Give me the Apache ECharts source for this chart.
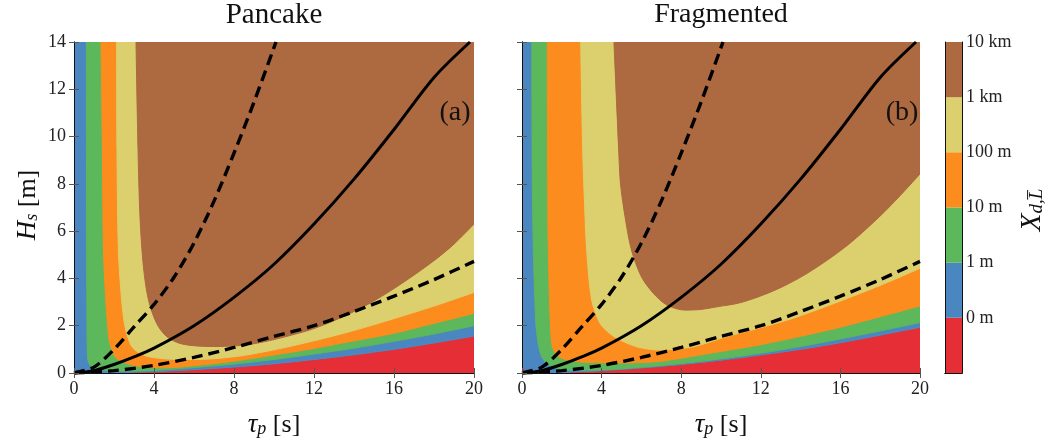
<!DOCTYPE html>
<html><head><meta charset="utf-8">
<script src="https://cdn.jsdelivr.net/npm/echarts/dist/echarts.min.js"></script>
<style>html,body{margin:0;padding:0;background:#fff}#c{width:1057px;height:446px}</style>
</head><body><div id="c"></div><script>
// ---- data ----
const panelTitles = ['Pancake', 'Fragmented'];
const panelTags = ['(a)', '(b)'];
const levelLabels = ['0 m', '1 m', '10 m', '100 m', '1 km', '10 km'];
const levelBins = [1, 1, 1, 1, 1, 1];

// boundaries (tau_p [s], H_s [m]) of the filled regions, panel (a)
const pancake0 = [[0,0],[2,0.015],[4,0.06],[6,0.14],[8,0.25],[10,0.39],[12,0.57],[14,0.77],[16,1.0],[18,1.27],[20,1.56]];
const pancake1 = [[0.62,14],[0.63,6],[0.65,2],[0.67,0.8],[0.72,0.45],[0.9,0.25],[1.45,0.13],[2.5,0.08],[4,0.11],[6,0.23],[8,0.38],[10,0.57],[12,0.8],[14,1.05],[16,1.34],[18,1.65],[20,2.0]];
const pancake2 = [[1.35,14],[1.42,9.5],[1.47,5.2],[1.58,3.2],[1.68,2.0],[1.78,1.3],[2.05,0.69],[2.5,0.45],[2.9,0.34],[3.6,0.25],[4.5,0.22],[6,0.31],[8,0.5],[10,0.76],[12,1.04],[14,1.36],[16,1.68],[18,2.1],[20,2.52]];
const pancake3 = [[2.13,14],[2.15,9.4],[2.22,5.2],[2.38,3.1],[2.55,1.96],[2.8,1.26],[3.05,0.97],[3.6,0.72],[4.3,0.62],[5.3,0.57],[6.5,0.58],[8.3,0.72],[10,0.98],[12,1.36],[14,1.8],[16,2.3],[18,2.83],[20,3.41]];
const pancake4 = [[3.1,14],[3.2,9.5],[3.3,6.6],[3.47,4.5],[3.72,3.1],[4.13,2.1],[4.63,1.54],[5.3,1.25],[6.2,1.14],[7.2,1.12],[8.5,1.18],[9.5,1.32],[10.6,1.54],[12,1.88],[13.5,2.4],[15,3.05],[16.5,3.85],[18,4.75],[19,5.45],[20,6.3]];

// panel (b)
const frag0 = [[0,14],[0.07,14],[0.075,0.5],[0.15,0.08],[0.5,0.02],[2,0.03],[4,0.1],[6,0.21],[8,0.36],[10,0.54],[12,0.76],[14,1.0],[16,1.28],[18,1.6],[20,1.93]];
const frag1 = [[0.49,14],[0.52,8],[0.57,5.2],[0.65,3],[0.74,1.68],[0.99,0.69],[1.49,0.27],[2.5,0.12],[4,0.13],[6,0.24],[8,0.4],[10,0.6],[12,0.84],[14,1.12],[16,1.44],[18,1.78],[20,2.13]];
const frag2 = [[1.27,14],[1.29,8],[1.32,5.2],[1.41,2.38],[1.49,1.26],[1.6,0.95],[1.83,0.69],[2.3,0.55],[3,0.46],[4.7,0.42],[6,0.44],[7.2,0.52],[8.94,0.76],[10.5,0.98],[12,1.2],[14,1.55],[16.1,1.96],[18,2.38],[20,2.83]];
const frag3 = [[2.95,14],[3.05,9.43],[3.15,7],[3.25,5.2],[3.5,3.09],[3.92,2.1],[4.3,1.75],[4.76,1.47],[5.76,1.11],[6.9,0.97],[8.6,1.11],[10.3,1.54],[12,1.92],[13.6,2.31],[15.3,2.82],[17,3.37],[18.5,3.88],[20,4.43]];
const frag4 = [[4.62,14],[4.85,9.6],[4.95,8],[5.18,6.6],[5.5,5.2],[6.0,4.07],[6.6,3.37],[7.27,2.88],[8.2,2.66],[9.0,2.69],[9.8,2.8],[11,2.98],[12.6,3.46],[14,4.05],[15.3,4.75],[16.5,5.5],[18,6.64],[19,7.5],[20,8.42]];

// black reference curves (same in both panels)
const solidLine = [[0,0],[1,0.1],[2,0.36],[3,0.68],[4,1.05],[6,2.0],[8,3.2],[10,4.6],[12,6.3],[14,8.2],[16,10.3],[18,12.5],[19.8,14]];
const dashedSteep = [[0,0],[1,0.25],[2,1.0],[3,1.95],[4,2.9],[5,4.05],[6,5.5],[7,7.27],[8,9.3],[9,11.46],[10.1,14]];
const dashedShallow = [[0,0],[2,0.1],[4,0.32],[6,0.66],[8,1.08],[10,1.55],[12,2.0],[14,2.6],[16,3.25],[18,3.95],[20,4.72]];

// ---- styling ----
const COLORS = ['#e52e36', '#4a87c0', '#5db75b', '#fd8c1e', '#dccf6e', '#ad693f'];
const F = '"Liberation Serif", "DejaVu Serif", serif';
const panelBounds = [[pancake0, pancake1, pancake2, pancake3, pancake4], [frag0, frag1, frag2, frag3, frag4]];
const grids = [
  {left: 74, top: 42, width: 400, height: 331},
  {left: 522, top: 42, width: 398, height: 331},
  {left: 945, top: 42, width: 17, height: 331}
];

const axisLine = {show: true, lineStyle: {color: '#111', width: 1}};
const axisTick = {show: true, length: 5, lineStyle: {color: '#555', width: 1}};
const xAxes = [], yAxes = [], series = [];

for (let p = 0; p < 2; p++) {
  ['bottom', 'top'].forEach((pos, j) => xAxes.push({
    type: 'value', gridIndex: p, position: pos, min: 0, max: 20, interval: 4, z: 50,
    axisLine, axisTick, splitLine: {show: false},
    axisLabel: {show: j === 0, fontFamily: F, fontSize: 18, color: '#222', margin: 7}
  }));
  ['left', 'right'].forEach((pos, j) => yAxes.push({
    type: 'value', gridIndex: p, position: pos, min: 0, max: 14, interval: 2, z: 50,
    axisLine, axisTick, splitLine: {show: false},
    axisLabel: {show: j === 0 && p === 0, fontFamily: F, fontSize: 18, color: '#222', margin: 8}
  }));
  const xi = 2 * p, yi = 2 * p;
  const b = panelBounds[p];
  // red region below the lowest boundary
  series.push({type: 'line', xAxisIndex: xi, yAxisIndex: yi, data: b[0], smooth: 0.3,
    symbol: 'none', silent: true, z: 1, lineStyle: {color: COLORS[0], width: 0.5},
    areaStyle: {color: COLORS[0], opacity: 1, origin: 'start'}});
  for (let k = 0; k < 5; k++) {
    series.push({type: 'line', xAxisIndex: xi, yAxisIndex: yi, data: b[k], smooth: 0.3,
      symbol: 'none', silent: true, z: 2 + k, lineStyle: {color: COLORS[k + 1], width: 1},
      areaStyle: {color: COLORS[k + 1], opacity: 1, origin: 'end'}});
  }
  [[solidLine, 'solid', 3], [dashedSteep, [11, 6], 3.4], [dashedShallow, [11, 6], 3.4]].forEach(([d, t, w]) => series.push({
    type: 'line', xAxisIndex: xi, yAxisIndex: yi, data: d, smooth: 0.3, symbol: 'none', silent: true, z: 20,
    lineStyle: {color: '#000', width: w, type: t, cap: 'butt'}
  }));
}
// colorbar
['bottom', 'top'].forEach(pos => xAxes.push({
  type: 'category', gridIndex: 2, position: pos, data: ['cb'], z: 50,
  axisLine, axisTick: {show: false}, axisLabel: {show: false}
}));
['right', 'left'].forEach((pos, j) => yAxes.push({
  type: 'value', gridIndex: 2, position: pos, min: 0, max: 6, interval: 1, z: 50,
  axisLine, axisTick: {show: false}, splitLine: {show: false},
  axisLabel: {show: j === 0, fontFamily: F, fontSize: 18, color: '#222', margin: 4, padding: [4, 0, 0, 0],
    formatter: v => v >= 1 ? levelLabels[v - 1] : ''}
}));
levelBins.forEach((v, k) => series.push({
  type: 'bar', xAxisIndex: 4, yAxisIndex: 4, stack: 'cb', data: [v], barWidth: '100%', silent: true, z: 2,
  itemStyle: {color: COLORS[k]}
}));

const sub = (size) => ({fontFamily: F, fontStyle: 'italic', fontSize: size, lineHeight: 10, verticalAlign: 'bottom', fill: '#111', color: '#111'});
const main = (size, italic) => ({fontFamily: F, fontStyle: italic ? 'italic' : 'normal', fontSize: size, lineHeight: size, verticalAlign: 'middle', fill: '#111', color: '#111'});
const txt = (x, y, text, size, extra) => Object.assign({
  type: 'text', x, y, z: 100, silent: true,
  style: {text, font: size + 'px ' + F, fill: '#111', align: 'center', verticalAlign: 'middle', textAlign: 'center', textVerticalAlign: 'middle'}
}, extra || {});

const graphic = [
  txt(274, 15, panelTitles[0], 29),
  txt(721, 15, panelTitles[1], 28),
  txt(455, 113, panelTags[0], 28),
  txt(902, 113, panelTags[1], 28)
];
const tauLabel = (x) => {
  const g = txt(x, 425, '{t|τ}{s|p}{n| [s]}', 26);
  g.style.rich = {t: main(27, true), s: sub(18), n: main(26, false)};
  return g;
};
graphic.push(tauLabel(274), tauLabel(721));
const hl = txt(28, 205, '{t|H}{s|s}{n| [m]}', 26, {rotation: Math.PI / 2});
hl.style.rich = {t: main(27, true), s: sub(18), n: main(26, false)};
graphic.push(hl);
const xl = txt(1032, 210, '{t|X}{s|d,L\u0305}', 28, {rotation: Math.PI / 2});
xl.style.rich = {t: main(29, true), s: sub(19)};
graphic.push(xl);

const chart = echarts.init(document.getElementById('c'));
chart.setOption({
  animation: false,
  backgroundColor: '#fff',
  grid: grids,
  xAxis: xAxes,
  yAxis: yAxes,
  series,
  graphic
});
</script></body></html>
